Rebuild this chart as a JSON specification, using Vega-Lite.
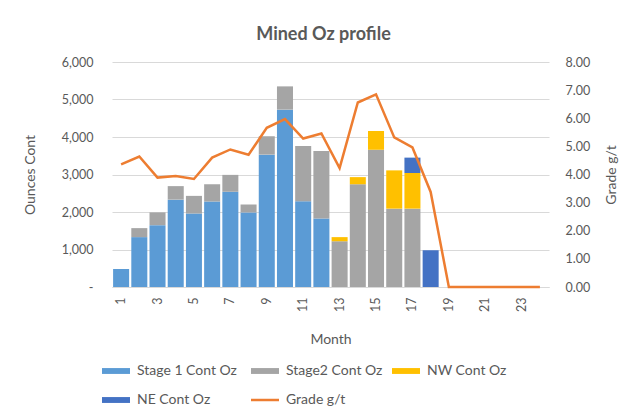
{
  "$schema": "https://vega.github.io/schema/vega-lite/v6.json",
  "width": 437,
  "height": 225,
  "autosize": {"type": "none"},
  "padding": {"left": 112, "top": 62, "right": 80, "bottom": 123},
  "background": "white",
  "config": {
    "font": "Lato",
    "view": {"stroke": null},
    "axis": {"labelColor": "#595959", "titleColor": "#595959", "labelFontSize": 12.5, "titleFontSize": 14, "titleFontWeight": "normal", "ticks": false, "domain": false}
  },
  "title": {"text": "Mined Oz profile", "fontSize": 18, "fontWeight": "bold", "color": "#595959", "offset": 12, "dx": -7},
  "datasets": {
    "bars": [
      {"month": 1, "series": "Stage 1 Cont Oz", "oz": 480},
      {"month": 2, "series": "Stage 1 Cont Oz", "oz": 1330},
      {"month": 3, "series": "Stage 1 Cont Oz", "oz": 1650},
      {"month": 4, "series": "Stage 1 Cont Oz", "oz": 2330},
      {"month": 5, "series": "Stage 1 Cont Oz", "oz": 1960},
      {"month": 6, "series": "Stage 1 Cont Oz", "oz": 2280},
      {"month": 7, "series": "Stage 1 Cont Oz", "oz": 2540},
      {"month": 8, "series": "Stage 1 Cont Oz", "oz": 1990},
      {"month": 9, "series": "Stage 1 Cont Oz", "oz": 3530},
      {"month": 10, "series": "Stage 1 Cont Oz", "oz": 4730},
      {"month": 11, "series": "Stage 1 Cont Oz", "oz": 2290},
      {"month": 12, "series": "Stage 1 Cont Oz", "oz": 1830},
      {"month": 2, "series": "Stage2 Cont Oz", "oz": 240},
      {"month": 3, "series": "Stage2 Cont Oz", "oz": 340},
      {"month": 4, "series": "Stage2 Cont Oz", "oz": 360},
      {"month": 5, "series": "Stage2 Cont Oz", "oz": 470},
      {"month": 6, "series": "Stage2 Cont Oz", "oz": 460},
      {"month": 7, "series": "Stage2 Cont Oz", "oz": 450},
      {"month": 8, "series": "Stage2 Cont Oz", "oz": 210},
      {"month": 9, "series": "Stage2 Cont Oz", "oz": 490},
      {"month": 10, "series": "Stage2 Cont Oz", "oz": 620},
      {"month": 11, "series": "Stage2 Cont Oz", "oz": 1470},
      {"month": 12, "series": "Stage2 Cont Oz", "oz": 1800},
      {"month": 13, "series": "Stage2 Cont Oz", "oz": 1220},
      {"month": 14, "series": "Stage2 Cont Oz", "oz": 2740},
      {"month": 15, "series": "Stage2 Cont Oz", "oz": 3660},
      {"month": 16, "series": "Stage2 Cont Oz", "oz": 2090},
      {"month": 17, "series": "Stage2 Cont Oz", "oz": 2090},
      {"month": 13, "series": "NW Cont Oz", "oz": 110},
      {"month": 14, "series": "NW Cont Oz", "oz": 190},
      {"month": 15, "series": "NW Cont Oz", "oz": 500},
      {"month": 16, "series": "NW Cont Oz", "oz": 1020},
      {"month": 17, "series": "NW Cont Oz", "oz": 950},
      {"month": 17, "series": "NE Cont Oz", "oz": 410},
      {"month": 18, "series": "NE Cont Oz", "oz": 980}
    ],
    "grade": [
      {"month": 1, "grade": 4.36},
      {"month": 2, "grade": 4.64},
      {"month": 3, "grade": 3.89},
      {"month": 4, "grade": 3.95},
      {"month": 5, "grade": 3.84},
      {"month": 6, "grade": 4.6},
      {"month": 7, "grade": 4.89},
      {"month": 8, "grade": 4.7},
      {"month": 9, "grade": 5.66},
      {"month": 10, "grade": 5.97},
      {"month": 11, "grade": 5.28},
      {"month": 12, "grade": 5.46},
      {"month": 13, "grade": 4.23},
      {"month": 14, "grade": 6.56},
      {"month": 15, "grade": 6.85},
      {"month": 16, "grade": 5.32},
      {"month": 17, "grade": 4.96},
      {"month": 18, "grade": 3.38},
      {"month": 19, "grade": 0},
      {"month": 20, "grade": 0},
      {"month": 21, "grade": 0},
      {"month": 22, "grade": 0},
      {"month": 23, "grade": 0},
      {"month": 24, "grade": 0}
    ]
  },
  "encoding": {
    "x": {
      "field": "month", "type": "ordinal",
      "scale": {"domain": [1,2,3,4,5,6,7,8,9,10,11,12,13,14,15,16,17,18,19,20,21,22,23,24], "paddingInner": 0.12, "paddingOuter": 0.06},
      "axis": {"title": "Month", "values": [1,3,5,7,9,11,13,15,17,19,21,23], "labelAngle": -90, "labelPadding": 10, "titlePadding": 21, "domain": true, "domainColor": "#D9D9D9"}
    }
  },
  "layer": [
    {
      "data": {"name": "bars"},
      "mark": {"type": "bar"},
      "encoding": {
        "y": {
          "field": "oz", "type": "quantitative", "stack": "zero",
          "scale": {"domain": [0, 6000]},
          "axis": {"title": "Ounces Cont", "tickCount": 6, "labelPadding": 19, "titlePadding": 24, "gridColor": "#D9D9D9", "labelExpr": "datum.value == 0 ? '-\u00a0\u00a0\u00a0' : format(datum.value, ',')"}
        },
        "color": {
          "field": "series", "type": "nominal",
          "scale": {
            "domain": ["Stage 1 Cont Oz", "Stage2 Cont Oz", "NW Cont Oz", "NE Cont Oz", "Grade g/t"],
            "range": ["#5B9BD5", "#A5A5A5", "#FFC000", "#4472C4", "#ED7D31"]
          },
          "legend": {
            "title": null, "orient": "none", "legendX": -3, "legendY": 302, "direction": "horizontal", "columns": 3,
            "symbolType": "M-1,-0.21H1V0.21H-1Z", "symbolSize": 784, "labelFontSize": 14, "labelColor": "#595959",
            "rowPadding": 15, "columnPadding": 9, "labelOffset": 14,
            "encode": {
              "symbols": {"update": {
                "shape": {"signal": "datum.value === 'Grade g/t' ? 'stroke' : 'M-1,-0.21H1V0.21H-1Z'"},
                "fill": {"signal": "scale('color', datum.value)"},
                "stroke": {"signal": "scale('color', datum.value)"},
                "strokeWidth": {"signal": "datum.value === 'Grade g/t' ? 2.5 : 0"},
                "opacity": {"value": 1}
              }}
            }
          }
        },
        "order": {"field": "oz", "sort": "descending"}
      }
    },
    {
      "data": {"name": "grade"},
      "mark": {"type": "line", "strokeWidth": 2.5},
      "encoding": {
        "y": {
          "field": "grade", "type": "quantitative",
          "scale": {"domain": [0, 8]},
          "axis": {"title": "Grade g/t", "orient": "right", "tickCount": 8, "format": ".2f", "grid": false, "labelPadding": 16, "titlePadding": 29, "titleAngle": 270}
        },
        "color": {"datum": "Grade g/t"}
      }
    }
  ],
  "resolve": {"scale": {"y": "independent"}}
}
